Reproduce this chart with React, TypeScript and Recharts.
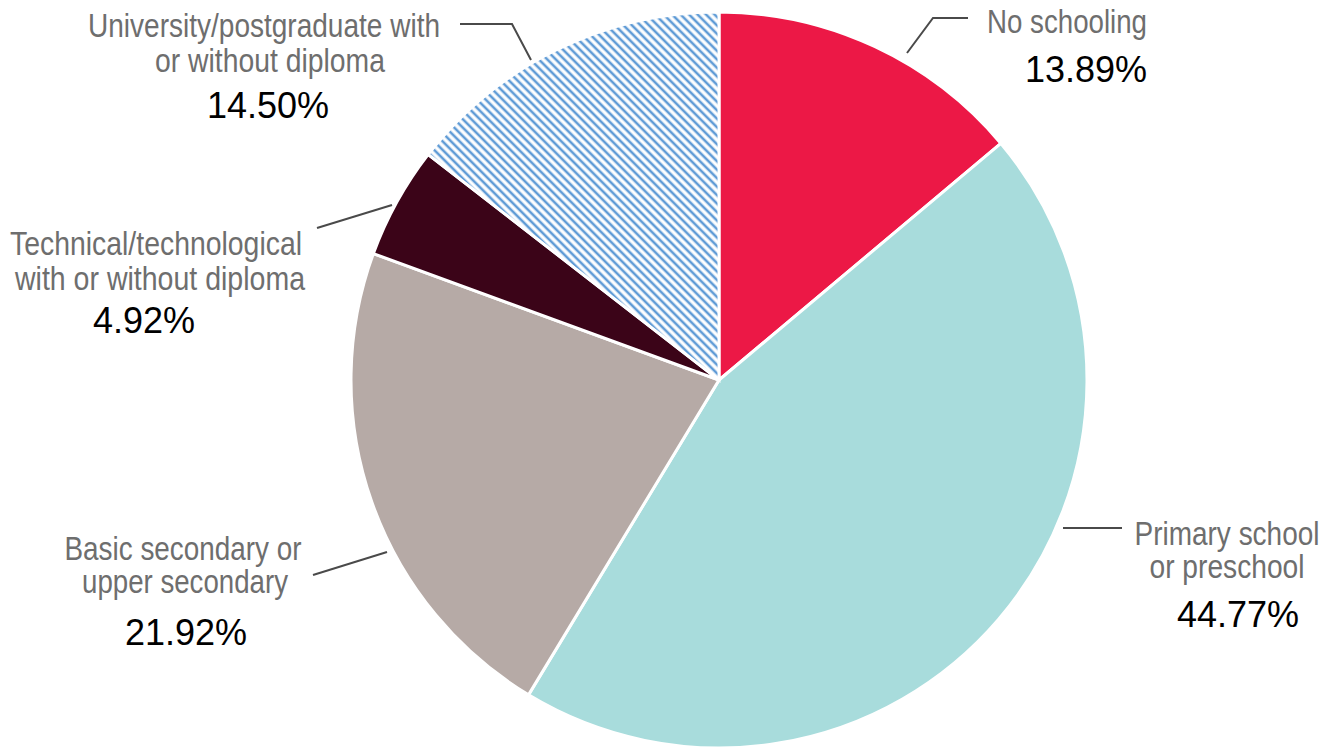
import React from "react";
import { PieChart, Pie, Cell } from "recharts";

const categories = [
  "No schooling",
  "Primary school or preschool",
  "Basic secondary or upper secondary",
  "Technical/technological with or without diploma",
  "University/postgraduate with or without diploma",
];
const shares = [13.89, 44.77, 21.92, 4.92, 14.5];
const labelLines = [
  ["No schooling"],
  ["Primary school", "or preschool"],
  ["Basic secondary or", "upper secondary"],
  ["Technical/technological", "with or without diploma"],
  ["University/postgraduate with", "or without diploma"],
];

const COLORS = ["#ec1846", "#a8dcdc", "#b6aaa6", "#3b0418", "url(#hatch)"];

// label layout (styling only)
type Layout = {
  anchor: "start" | "middle" | "end";
  tx: number[];
  ty: number[];
  tw: number[];
  px: number;
  py: number;
  line: [number, number][];
};
const LAYOUT: Layout[] = [
  { anchor: "middle", tx: [1067], ty: [33], tw: [160], px: 1147, py: 82, line: [[907, 53], [933, 18], [968, 18]] },
  { anchor: "middle", tx: [1227, 1227], ty: [545, 578], tw: [185, 155], px: 1238, py: 627, line: [[1063, 528], [1122, 528]] },
  { anchor: "middle", tx: [183, 185], ty: [560, 593], tw: [237, 206], px: 186, py: 645, line: [[313, 575], [387, 552]] },
  { anchor: "middle", tx: [156, 160], ty: [255, 290], tw: [292, 290], px: 144, py: 333, line: [[317, 228], [392, 205]] },
  { anchor: "middle", tx: [264, 270], ty: [37, 72], tw: [352, 230], px: 268, py: 118, line: [[460, 24], [512, 24], [531, 60]] },
];

const data = categories.map((name, i) => ({ name, value: shares[i] }));

const renderLabel = (props: any) => {
  const i = props.index as number;
  const L = LAYOUT[i];
  const pts = L.line.map((p) => p.join(",")).join(" ");
  return (
    <g key={`lbl-${i}`}>
      <polyline points={pts} fill="none" stroke="#4a4a4a" strokeWidth={2} />
      {labelLines[i].map((t, k) => (
        <text
          key={k}
          x={L.tx[k]}
          y={L.ty[k]}
          textAnchor="middle"
          textLength={L.tw[k]}
          lengthAdjust="spacingAndGlyphs"
          fill="#6e6e6e"
          fontSize={33}
          fontFamily="'Liberation Sans', Arial, sans-serif"
        >
          {t}
        </text>
      ))}
      <text
        x={L.px}
        y={L.py}
        textAnchor={i === 0 ? "end" : "middle"}
        fill="#000000"
        fontSize={36}
        fontFamily="'Liberation Sans', Arial, sans-serif"
      >
        {shares[i].toFixed(2)}%
      </text>
    </g>
  );
};

export default function App() {
  return (
    <div style={{ width: 1325, height: 751, background: "#ffffff" }}>
      <style>{`body{margin:0;background:#fff;}`}</style>
      <PieChart width={1325} height={751} margin={{ top: 0, right: 0, bottom: 0, left: 0 }}>
        <defs>
          <pattern
            id="hatch"
            patternUnits="userSpaceOnUse"
            width={6}
            height={6}
            patternTransform="rotate(-45)"
          >
            <rect x={0} y={0} width={6} height={6} fill="#ffffff" />
            <line x1={3} y1={0} x2={3} y2={6} stroke="#5f9bd6" strokeWidth={2.6} />
          </pattern>
        </defs>
        <Pie
          data={data}
          dataKey="value"
          nameKey="name"
          cx={719}
          cy={380}
          outerRadius={368}
          startAngle={90}
          endAngle={-270}
          stroke="#ffffff"
          strokeWidth={3}
          label={renderLabel}
          labelLine={false}
          isAnimationActive={false}
        >
          {data.map((d, i) => (
            <Cell key={d.name} fill={COLORS[i]} />
          ))}
        </Pie>
      </PieChart>
    </div>
  );
}
